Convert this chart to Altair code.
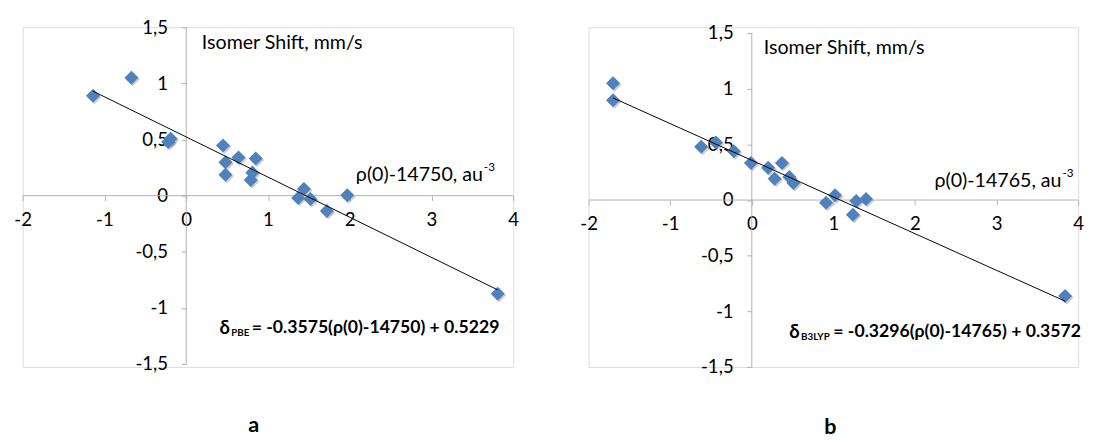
import altair as alt
import pandas as pd

# ---------------- data ----------------
xa = [-1.14, -0.67, -0.22, -0.19, 0.45, 0.48, 0.48, 0.64, 0.85, 0.81, 0.79, 1.37, 1.44, 1.52, 1.72, 1.97, 3.81]
ya = [0.89, 1.05, 0.477, 0.506, 0.447, 0.297, 0.187, 0.34, 0.33, 0.205, 0.139, -0.02, 0.06, -0.03, -0.136, 0.003, -0.873]
xb = [-1.70, -1.70, -0.62, -0.44, -0.22, -0.01, 0.20, 0.28, 0.37, 0.46, 0.51, 0.91, 1.02, 1.24, 1.28, 1.40, 3.84]
yb = [1.05, 0.896, 0.479, 0.518, 0.438, 0.334, 0.29, 0.192, 0.334, 0.207, 0.154, -0.024, 0.044, -0.133, -0.009, 0.009, -0.862]

fit_a = [-0.3575, 0.5229]
fit_b = [-0.3296, 0.3572]

x_ticks = [-2, -1, 0, 1, 2, 3, 4]
y_ticks = [-1.5, -1, -0.5, 0, 0.5, 1, 1.5]

y_title = "Isomer Shift, mm/s"
x_title_a = "ρ(0)-14750, au"
x_title_b = "ρ(0)-14765, au"
eq_sub_a = "PBE"
eq_sub_b = "B3LYP"
eq_rest_a = "= -0.3575(ρ(0)-14750) + 0.5229"
eq_rest_b = "= -0.3296(ρ(0)-14765) + 0.3572"

FONT = "Lato"
AXC = "#b0b0b0"
BLUE = "#4F81BD"
LABEL_EXPR = "replace(toString(datum.value), '.', ',')"


def txt(s, x, y, size=17, weight="normal", align="left", baseline="middle", dy=0):
    return alt.Chart(pd.DataFrame({"t": [s]})).mark_text(
        font=FONT, fontSize=size, fontWeight=weight, align=align,
        baseline=baseline, dy=dy, color="black",
    ).encode(x=alt.value(x), y=alt.value(y), text="t:N")


def panel(xs, ys, fit, W, H, ydom, xt, sub, rest, letter, pos):
    xmin, xmax = x_ticks[0], x_ticks[-1]
    ymin, ymax = ydom
    xsc = alt.Scale(domain=[xmin, xmax], nice=False, zero=False)
    ysc = alt.Scale(domain=[ymin, ymax], nice=False, zero=False)
    y0px = H * ymax / (ymax - ymin)
    x0px = W * (0 - xmin) / (xmax - xmin)
    common = dict(tickSize=5, domain=False, tickColor=AXC, labelFont=FONT,
                  labelFontSize=19, labelColor="black", grid=False, title=None,
                  labelFlush=False, labelOverlap=False, labelExpr=LABEL_EXPR)
    xaxis = alt.Axis(values=x_ticks, offset=y0px - H, labelPadding=10, **common)
    yaxis = alt.Axis(values=y_ticks, offset=-x0px, labelPadding=14, **common)

    pts = pd.DataFrame({"x": xs, "y": ys})
    lx = [min(xs), max(xs)]
    line = pd.DataFrame({"x": lx, "y": [fit[0] * v + fit[1] for v in lx]})
    vline = pd.DataFrame({"x": [0], "y": [y_ticks[0]], "y2": [y_ticks[-1]]})
    hline = pd.DataFrame({"x": [x_ticks[0]], "x2": [x_ticks[-1]], "y": [0]})

    base = alt.Chart(pts).mark_point(
        shape="diamond", filled=True, size=205, color="#000000", opacity=0.2,
        xOffset=1.5, yOffset=1.5,
    ).encode(x=alt.X("x:Q", scale=xsc, axis=xaxis), y=alt.Y("y:Q", scale=ysc, axis=yaxis))
    vr = alt.Chart(vline).mark_rule(color=AXC, strokeWidth=1).encode(
        x=alt.X("x:Q", scale=xsc), y=alt.Y("y:Q", scale=ysc), y2="y2:Q")
    hr = alt.Chart(hline).mark_rule(color=AXC, strokeWidth=1).encode(
        x=alt.X("x:Q", scale=xsc), x2="x2:Q", y=alt.Y("y:Q", scale=ysc))
    dots = alt.Chart(pts).mark_point(
        shape="diamond", filled=True, size=205, color=BLUE, opacity=1,
    ).encode(x=alt.X("x:Q", scale=xsc), y=alt.Y("y:Q", scale=ysc))
    fitl = alt.Chart(line).mark_line(color="black", strokeWidth=1).encode(
        x=alt.X("x:Q", scale=xsc), y=alt.Y("y:Q", scale=ysc))

    layers = [base, vr, hr, dots, fitl,
              txt(y_title, pos["tx"], pos["ty"], size=20),
              txt(xt, pos["xx"], pos["xy"], size=20, align="right"),
              txt("-3", pos["xx"] + 1, pos["xy"], size=12, dy=-8),
              txt("δ", pos["ex"], pos["ey"], size=19, weight="bold"),
              txt(sub, pos["ex"] + 12, pos["ey"], size=10, weight="bold", dy=5),
              txt(rest, pos["ex"] + pos["rx"], pos["ey"], size=18, weight="bold"),
              txt(letter, pos["lx"], pos["ly"], size=22, weight="bold", align="center")]
    return alt.layer(*layers).properties(width=W, height=H)


left = panel(xa, ya, fit_a, 501, 347, [-1.526, 1.5], x_title_a, eq_sub_a, eq_rest_a, "a",
             dict(tx=183, ty=16, xx=470, xy=151, ex=201, ey=307, rx=33, lx=236, ly=406))
right = panel(xb, yb, fit_b, 500, 347, [-1.5, 1.553], x_title_b, eq_sub_b, eq_rest_b, "b",
              dict(tx=179, ty=21, xx=483, xy=157, ex=205, ey=311, rx=45, lx=247, ly=408))

chart = alt.hconcat(left, right, spacing=60).properties(
    padding={"left": 5, "top": 5, "right": 0, "bottom": 0}
).configure_view(stroke=None).configure(background="white")

chart.save("out.html", embed_options={"renderer": "svg", "actions": False})
